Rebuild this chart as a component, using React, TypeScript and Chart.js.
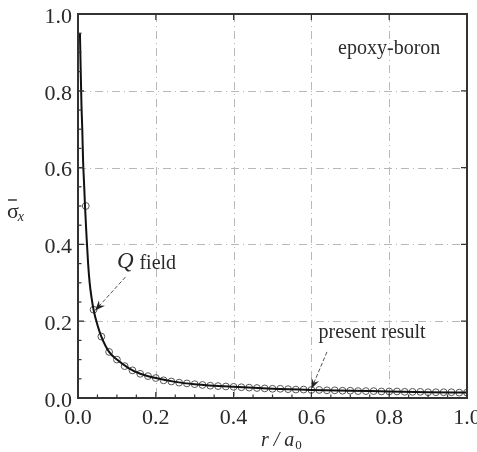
import React, { useEffect, useRef } from "react";
import { Chart, registerables } from "chart.js";

Chart.register(...registerables);

const presentR = [0.005, 0.007, 0.009, 0.011, 0.013, 0.016, 0.018, 0.022, 0.026, 0.03, 0.035, 0.04, 0.05, 0.06, 0.08, 0.1, 0.13, 0.16, 0.2, 0.25, 0.3, 0.4, 0.5, 0.6, 0.7, 0.8, 0.9, 1.0];
const presentY = [0.95, 0.85, 0.76, 0.7, 0.62, 0.55, 0.5, 0.42, 0.35, 0.3, 0.26, 0.23, 0.19, 0.16, 0.12, 0.1, 0.078, 0.063, 0.052, 0.042, 0.036, 0.029, 0.024, 0.021, 0.019, 0.017, 0.015, 0.014];

const qR = [0.02, 0.04, 0.06, 0.08, 0.1, 0.12, 0.14, 0.16, 0.18, 0.2, 0.22, 0.24, 0.26, 0.28, 0.3, 0.32, 0.34, 0.36, 0.38, 0.4, 0.42, 0.44, 0.46, 0.48, 0.5, 0.52, 0.54, 0.56, 0.58, 0.6, 0.62, 0.64, 0.66, 0.68, 0.7, 0.72, 0.74, 0.76, 0.78, 0.8, 0.82, 0.84, 0.86, 0.88, 0.9, 0.92, 0.94, 0.96, 0.98, 1.0];
const qY = [0.5, 0.23, 0.16, 0.12, 0.1, 0.083, 0.072, 0.063, 0.057, 0.052, 0.046, 0.043, 0.04, 0.038, 0.036, 0.034, 0.032, 0.031, 0.03, 0.029, 0.028, 0.027, 0.026, 0.025, 0.024, 0.024, 0.023, 0.022, 0.022, 0.021, 0.021, 0.02, 0.02, 0.019, 0.019, 0.018, 0.018, 0.018, 0.017, 0.017, 0.017, 0.016, 0.016, 0.016, 0.015, 0.015, 0.015, 0.015, 0.014, 0.014];

const xTicks = [0, 0.2, 0.4, 0.6, 0.8, 1.0];
const yTicks = [0, 0.2, 0.4, 0.6, 0.8, 1.0];

const SERIF = '"Liberation Serif", "Times New Roman", serif';
const INK = "#2a2a2a";

function drawArrow(ctx: CanvasRenderingContext2D, x1: number, y1: number, x2: number, y2: number) {
  ctx.save();
  ctx.strokeStyle = "#555";
  ctx.lineWidth = 1;
  ctx.setLineDash([4, 2]);
  ctx.beginPath();
  ctx.moveTo(x1, y1);
  ctx.lineTo(x2, y2);
  ctx.stroke();
  ctx.setLineDash([]);
  const a = Math.atan2(y2 - y1, x2 - x1);
  const L = 11;
  const w = 0.38;
  ctx.fillStyle = "#222";
  ctx.beginPath();
  ctx.moveTo(x2, y2);
  ctx.lineTo(x2 - L * Math.cos(a - w), y2 - L * Math.sin(a - w));
  ctx.lineTo(x2 - 0.6 * L * Math.cos(a), y2 - 0.6 * L * Math.sin(a));
  ctx.lineTo(x2 - L * Math.cos(a + w), y2 - L * Math.sin(a + w));
  ctx.closePath();
  ctx.fill();
  ctx.restore();
}

const framePlugin = {
  id: "frame",
  beforeDatasetsDraw(chart: any) {
    const { ctx, chartArea: ca, scales } = chart;
    const xs = scales.x;
    const ys = scales.y;
    ctx.save();
    ctx.strokeStyle = "#b8b8b8";
    ctx.lineWidth = 1;
    ctx.setLineDash([8, 4, 1, 4]);
    xs.ticks.forEach((t: any) => {
      if (t.value <= 0 || t.value >= 1) return;
      const px = Math.round(xs.getPixelForValue(t.value)) + 0.5;
      ctx.beginPath();
      ctx.moveTo(px, ca.top);
      ctx.lineTo(px, ca.bottom);
      ctx.stroke();
    });
    ys.ticks.forEach((t: any) => {
      if (t.value <= 0 || t.value >= 1) return;
      const py = Math.round(ys.getPixelForValue(t.value)) + 0.5;
      ctx.beginPath();
      ctx.moveTo(ca.left, py);
      ctx.lineTo(ca.right, py);
      ctx.stroke();
    });
    ctx.restore();
  },
  afterDraw(chart: any) {
    const { ctx, chartArea: ca, scales } = chart;
    const xs = scales.x;
    const ys = scales.y;
    ctx.save();
    ctx.strokeStyle = "#333";
    ctx.lineWidth = 1.2;
    const xt = xs.ticks.map((t: any) => t.value);
    const yt = ys.ticks.map((t: any) => t.value);
    const drawTicks = (vals: number[], isX: boolean) => {
      for (let i = 0; i < vals.length; i++) {
        const v0 = vals[i];
        const len = 6;
        if (isX) {
          const px = xs.getPixelForValue(v0);
          ctx.beginPath();
          ctx.moveTo(px, ca.bottom);
          ctx.lineTo(px, ca.bottom - len);
          ctx.moveTo(px, ca.top);
          ctx.lineTo(px, ca.top + len);
          ctx.stroke();
        } else {
          const py = ys.getPixelForValue(v0);
          ctx.beginPath();
          ctx.moveTo(ca.left, py);
          ctx.lineTo(ca.left + len, py);
          ctx.moveTo(ca.right, py);
          ctx.lineTo(ca.right - len, py);
          ctx.stroke();
        }
        if (i < vals.length - 1) {
          const step = (vals[i + 1] - vals[i]) / 4;
          for (let k = 1; k < 4; k++) {
            const v = vals[i] + step * k;
            const ml = 3.5;
            if (isX) {
              const px = xs.getPixelForValue(v);
              ctx.beginPath();
              ctx.moveTo(px, ca.bottom);
              ctx.lineTo(px, ca.bottom - ml);
              ctx.stroke();
            } else {
              const py = ys.getPixelForValue(v);
              ctx.beginPath();
              ctx.moveTo(ca.left, py);
              ctx.lineTo(ca.left + ml, py);
              ctx.stroke();
            }
          }
        }
      }
    };
    drawTicks(xt, true);
    drawTicks(yt, false);

    ctx.strokeStyle = "#333";
    ctx.lineWidth = 2;
    ctx.strokeRect(ca.left, ca.top, ca.right - ca.left, ca.bottom - ca.top);

    // annotations
    ctx.fillStyle = INK;
    ctx.textBaseline = "middle";
    ctx.textAlign = "center";
    ctx.font = `20px ${SERIF}`;
    ctx.fillText("epoxy-boron", xs.getPixelForValue(0.8), ys.getPixelForValue(0.91));
    ctx.fillText("present result", xs.getPixelForValue(0.756), ys.getPixelForValue(0.17));
    ctx.textAlign = "left";
    ctx.fillText("field", xs.getPixelForValue(0.158), ys.getPixelForValue(0.35));
    ctx.font = `italic 23px ${SERIF}`;
    ctx.fillText("Q", xs.getPixelForValue(0.1), ys.getPixelForValue(0.355));

    drawArrow(ctx, xs.getPixelForValue(0.122), ys.getPixelForValue(0.315), xs.getPixelForValue(0.044), ys.getPixelForValue(0.228));
    drawArrow(ctx, xs.getPixelForValue(0.64), ys.getPixelForValue(0.12), xs.getPixelForValue(0.6), ys.getPixelForValue(0.024));

    // y-axis title: sigma with overbar, subscript x
    const ty = ys.getPixelForValue(0.487);
    ctx.textAlign = "left";
    ctx.textBaseline = "alphabetic";
    ctx.font = `22px ${SERIF}`;
    const sw = ctx.measureText("σ").width;
    ctx.fillText("σ", 7, ty + 7);
    ctx.strokeStyle = INK;
    ctx.lineWidth = 1.4;
    ctx.beginPath();
    ctx.moveTo(8, ty - 11);
    ctx.lineTo(7 + sw - 2, ty - 11);
    ctx.stroke();
    ctx.font = `italic 14px ${SERIF}`;
    ctx.fillText("x", 7 + sw - 1, ty + 10);

    // x-axis title: r / a0
    ctx.textBaseline = "alphabetic";
    ctx.font = `italic 20px ${SERIF}`;
    const x0 = 261;
    const by = 446;
    const t1 = "r / a";
    const w1 = ctx.measureText(t1).width;
    ctx.fillText(t1, x0, by);
    ctx.font = `13px ${SERIF}`;
    ctx.fillText("0", x0 + w1 + 1, by + 3);
    ctx.restore();
  },
};

export default function App() {
  const ref = useRef<HTMLCanvasElement | null>(null);
  useEffect(() => {
    document.body.style.margin = "0";
    const canvas = ref.current;
    if (!canvas) return;
    const chart = new Chart(canvas, {
      type: "scatter",
      data: {
        datasets: [
          {
            label: "present result",
            data: presentR.map((r, i) => ({ x: r, y: presentY[i] })),
            showLine: true,
            borderColor: "#111",
            borderWidth: 2,
            pointRadius: 0,
            cubicInterpolationMode: "monotone",
          },
          {
            label: "Q field",
            data: qR.map((r, i) => ({ x: r, y: qY[i] })),
            showLine: false,
            pointStyle: "circle",
            pointRadius: 3.4,
            borderColor: "#555",
            borderWidth: 1,
            backgroundColor: "rgba(0,0,0,0)",
          },
        ],
      },
      options: {
        animation: false,
        responsive: false,
        layout: { padding: { top: 14, right: 10, left: 0, bottom: 0 } },
        plugins: { legend: { display: false }, tooltip: { enabled: false } },
        scales: {
          x: {
            type: "linear",
            min: 0,
            max: 1,
            afterBuildTicks: (scale: any) => {
              scale.ticks = xTicks.map((v) => ({ value: v }));
            },
            afterFit: (scale: any) => {
              scale.height = 54;
              scale.paddingLeft = 0;
              scale.paddingRight = 0;
            },
            grid: { display: false, drawTicks: false },
            border: { display: false },
            ticks: {
              padding: 7,
              color: INK,
              font: { family: SERIF, size: 22 },
              maxRotation: 0,
              callback: (v: any) => Number(v).toFixed(1),
            },
          },
          y: {
            type: "linear",
            min: 0,
            max: 1,
            afterBuildTicks: (scale: any) => {
              scale.ticks = yTicks.map((v) => ({ value: v }));
            },
            afterFit: (scale: any) => {
              scale.width = 78;
              scale.paddingTop = 0;
              scale.paddingBottom = 0;
            },
            grid: { display: false, drawTicks: false },
            border: { display: false },
            ticks: {
              padding: 6,
              labelOffset: 3,
              color: INK,
              font: { family: SERIF, size: 22 },
              callback: (v: any) => Number(v).toFixed(1),
            },
          },
        },
      },
      plugins: [framePlugin],
    } as any);
    return () => chart.destroy();
  }, []);
  return (
    <div style={{ width: 477, height: 452 }}>
      <canvas ref={ref} width={477} height={452} />
    </div>
  );
}
